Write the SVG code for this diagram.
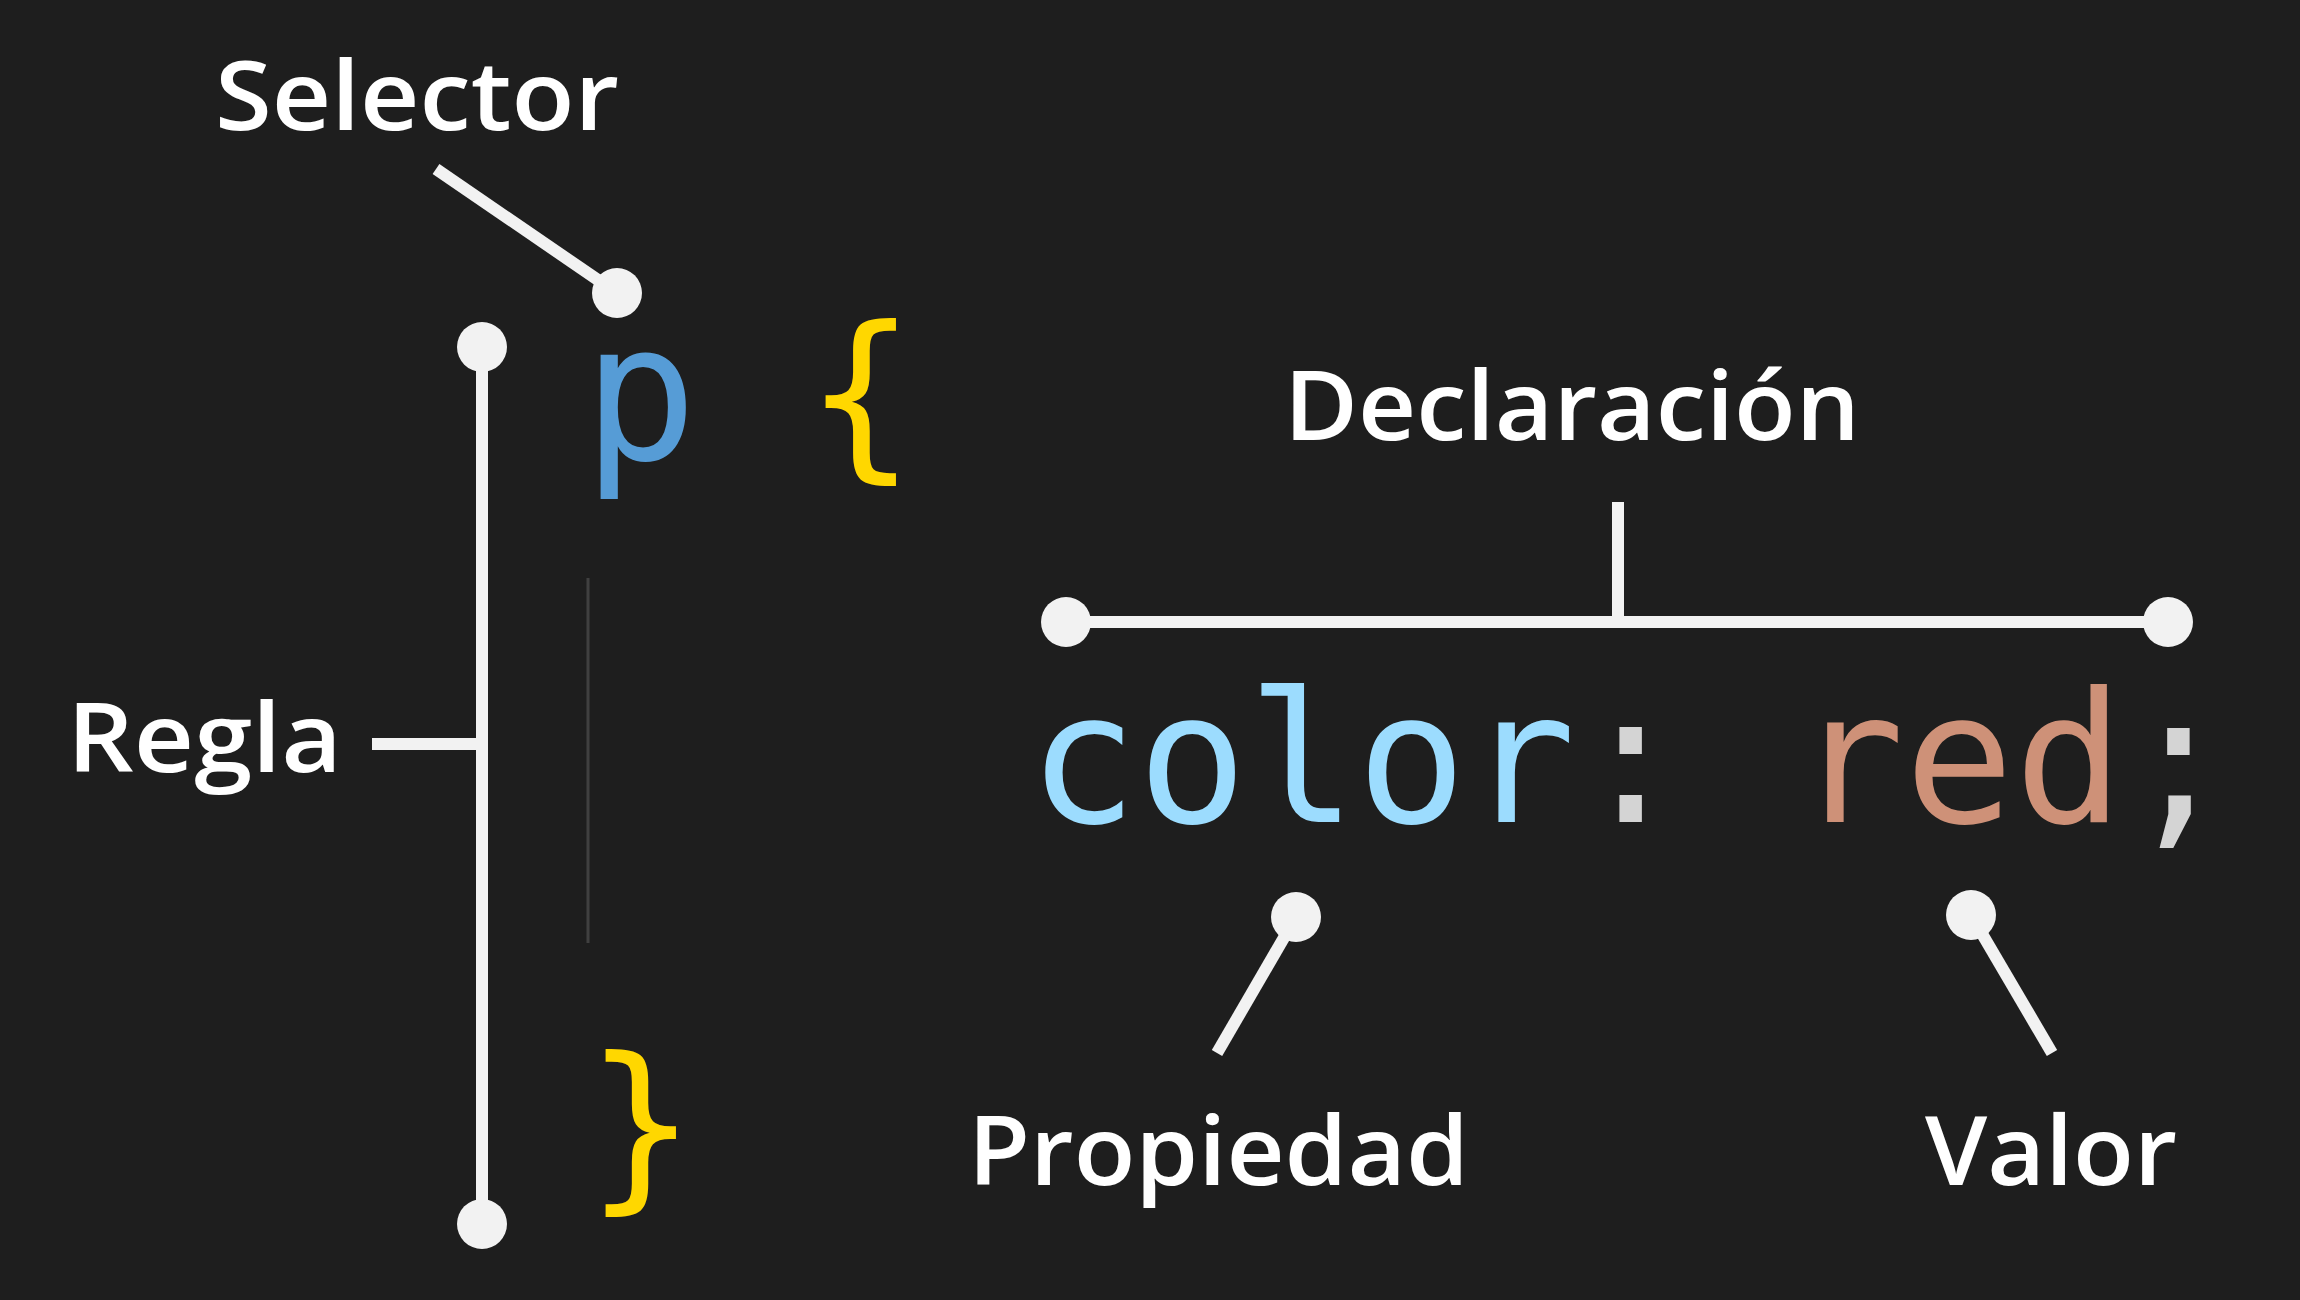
<svg xmlns="http://www.w3.org/2000/svg" width="2300" height="1300" viewBox="0 0 2300 1300">
<style>
.lbl{font-family:"Open Sans","Noto Sans","Liberation Sans",sans-serif;font-weight:600;font-size:96px;fill:#ffffff}
.code{font-family:"DejaVu Sans Mono","Liberation Mono",monospace;font-size:182px}
.ln{stroke:#f2f2f2;stroke-width:12;fill:none}
.dot{fill:#f2f2f2}
</style>
<rect x="0" y="0" width="2300" height="1300" fill="#1e1e1e"/>
<g id="code">
<text class="code" x="583" y="459" fill="#569cd6" style="font-size:190px">p</text>
<text class="code" x="806" y="456" fill="#ffd700">{</text>
<line x1="588" y1="578" x2="588" y2="943" stroke="#404040" stroke-width="3"/>
<text class="code" x="586" y="1187" fill="#ffd700">}</text>
<text class="code" x="1028" y="822"><tspan fill="#9cdcfe">color</tspan><tspan fill="#d4d4d4">:</tspan><tspan fill="#d4d4d4"> </tspan><tspan fill="#ce9178">red</tspan><tspan fill="#d4d4d4">;</tspan></text>
</g>
<g id="connectors">
<line class="ln" x1="436" y1="169" x2="617" y2="293"/>
<line class="ln" x1="482" y1="347" x2="482" y2="1224"/>
<line class="ln" x1="372" y1="744" x2="482" y2="744"/>
<line class="ln" x1="1066" y1="622" x2="2168" y2="622"/>
<line class="ln" x1="1618" y1="502" x2="1618" y2="622"/>
<line class="ln" x1="1296" y1="917" x2="1217" y2="1053"/>
<line class="ln" x1="1971" y1="915" x2="2052" y2="1053"/>
</g>
<g id="selector"><text class="lbl" x="215" y="130" textLength="404" lengthAdjust="spacingAndGlyphs">Selector</text><circle class="dot" cx="617" cy="293" r="25"/></g>
<g id="regla"><text class="lbl" x="67" y="772" textLength="275" lengthAdjust="spacingAndGlyphs">Regla</text><circle class="dot" cx="482" cy="347" r="25"/><circle class="dot" cx="482" cy="1224" r="25"/></g>
<g id="declaracion"><text class="lbl" x="1284" y="440" textLength="576" lengthAdjust="spacingAndGlyphs">Declaración</text><circle class="dot" cx="1066" cy="622" r="25"/><circle class="dot" cx="2168" cy="622" r="25"/></g>
<g id="propiedad"><text class="lbl" x="968" y="1185" textLength="501" lengthAdjust="spacingAndGlyphs">Propiedad</text><circle class="dot" cx="1296" cy="917" r="25"/></g>
<g id="valor"><text class="lbl" x="1925" y="1185" textLength="252" lengthAdjust="spacingAndGlyphs">Valor</text><circle class="dot" cx="1971" cy="915" r="25"/></g>
</svg>
